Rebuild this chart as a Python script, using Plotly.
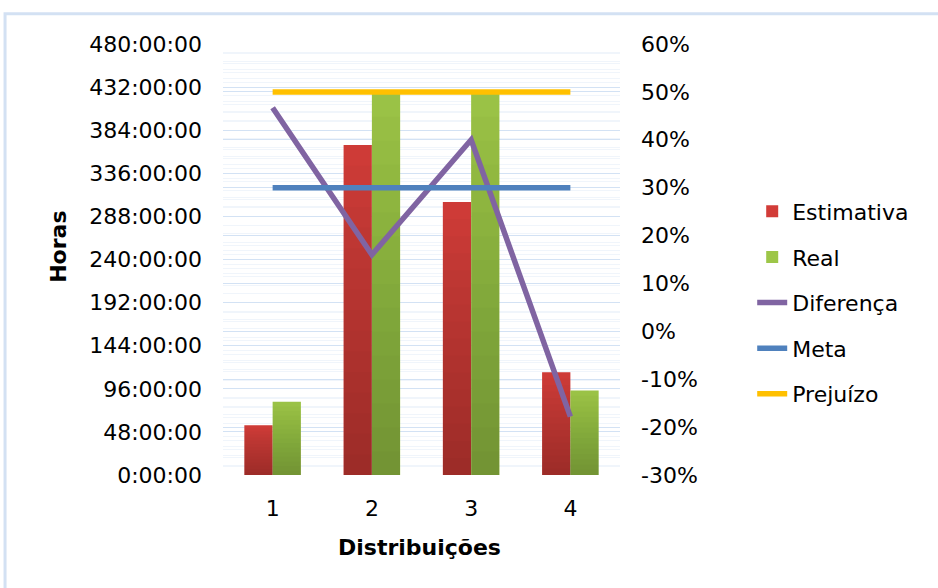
import plotly.graph_objects as go

# Data
distribuicoes = [1, 2, 3, 4]
estimativa_h = [55.5, 367.5, 304.0, 114.5]      # hours
real_h = [81.5, 425.5, 425.5, 94.0]             # hours
diferenca = [0.467, 0.160, 0.400, -0.178]      # fraction
meta = [0.30, 0.30, 0.30, 0.30]
prejuizo = [0.50, 0.50, 0.50, 0.50]

hour_ticks = [0, 48, 96, 144, 192, 240, 288, 336, 384, 432, 480]
hour_labels = [f"{h}:00:00" for h in hour_ticks]
pct_ticks = [-0.3, -0.2, -0.1, 0.0, 0.1, 0.2, 0.3, 0.4, 0.5, 0.6]
pct_labels = [f"{round(p * 100)}%" for p in pct_ticks]

FONT = "DejaVu Sans"
RED_TOP, GREEN_TOP = "#D23C38", "#9DC648"
BAR_W = 0.285

fig = go.Figure()

# bars: base colour plus stacked translucent layers for a vertical shading
fig.add_trace(go.Bar(x=distribuicoes, y=estimativa_h, name="Estimativa",
                     marker=dict(color=RED_TOP, line=dict(width=0)),
                     offset=-BAR_W, width=BAR_W, legendgroup="a"))
fig.add_trace(go.Bar(x=distribuicoes, y=real_h, name="Real",
                     marker=dict(color=GREEN_TOP, line=dict(width=0)),
                     offset=0, width=BAR_W, legendgroup="b"))

N_SHADE = 16
for k in range(1, N_SHADE + 1):
    f = k / N_SHADE
    for vals, off in ((estimativa_h, -BAR_W), (real_h, 0)):
        fig.add_trace(go.Bar(x=distribuicoes, y=[v * f for v in vals],
                             offset=off, width=BAR_W,
                             marker=dict(color="rgba(0,0,0,0.017)", line=dict(width=0)),
                             showlegend=False, hoverinfo="skip"))

# lines on the percentage axis
fig.add_trace(go.Scatter(x=distribuicoes, y=diferenca, name="Diferença", mode="lines",
                         line=dict(color="#8064A2", width=5.5), yaxis="y2", legendgroup="c"))
fig.add_trace(go.Scatter(x=distribuicoes, y=meta, name="Meta", mode="lines",
                         line=dict(color="#4F81BD", width=5.5), yaxis="y2", legendgroup="d"))
fig.add_trace(go.Scatter(x=distribuicoes, y=prejuizo, name="Prejuízo", mode="lines",
                         line=dict(color="#FFC000", width=5.5), yaxis="y2", legendgroup="e"))

fig.update_layout(
    width=938, height=588,
    margin=dict(l=223, r=318, t=44, b=113),
    paper_bgcolor="white", plot_bgcolor="white",
    font=dict(family=FONT, size=22, color="black"),
    barmode="overlay",
    showlegend=True,
    legend=dict(x=1.333, y=0.66, xanchor="left", yanchor="top",
                font=dict(family=FONT, size=22), tracegroupgap=14,
                traceorder="grouped", bgcolor="rgba(0,0,0,0)"),
    xaxis=dict(range=[0.5, 4.5], tickvals=distribuicoes,
               ticktext=[str(d) for d in distribuicoes],
               showgrid=False, zeroline=False, showline=False,
               ticks="", ticklabelstandoff=18),
    yaxis=dict(range=[0, 480], tickvals=hour_ticks, ticktext=hour_labels,
               showgrid=True, gridcolor="#D3E2F4", gridwidth=1,
               minor=dict(dtick=9.6, showgrid=True, gridcolor="#F0F5FB", gridwidth=1),
               zeroline=False, showline=False, ticks="", ticklabelstandoff=20),
    yaxis2=dict(range=[-0.3, 0.6], tickvals=pct_ticks, ticktext=pct_labels,
                overlaying="y", side="right",
                showgrid=True, gridcolor="#D3E2F4", gridwidth=1,
                minor=dict(dtick=0.02, showgrid=True, gridcolor="#F0F5FB", gridwidth=1),
                zeroline=False, showline=False, ticks="", ticklabelstandoff=20),
    annotations=[
        dict(text="<b>Horas</b>", xref="paper", yref="paper", x=-0.415, y=0.53,
             textangle=-90, showarrow=False, xanchor="center", yanchor="middle",
             font=dict(family=FONT, size=22)),
        dict(text="<b>Distribuições</b>", xref="paper", yref="paper", x=0.495, y=-0.169,
             showarrow=False, xanchor="center", yanchor="middle",
             font=dict(family=FONT, size=22)),
    ],
    shapes=[
        dict(type="rect", xref="paper", yref="paper", x0=-0.549, x1=1.9,
             y0=-0.6, y1=1.07, line=dict(color="#D3E1F3", width=3), layer="below"),
    ],
)

fig.write_html("out.html")
